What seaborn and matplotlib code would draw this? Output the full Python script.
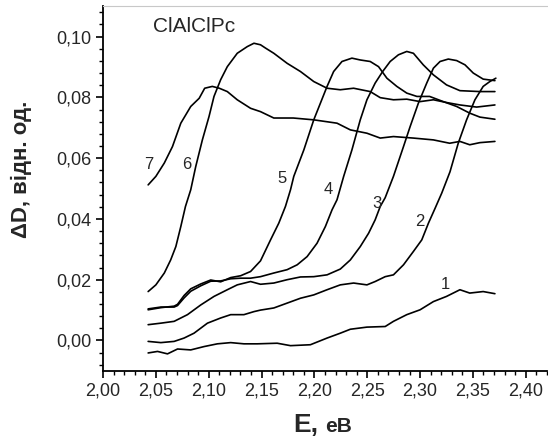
import pandas as pd
import numpy as np
import matplotlib
matplotlib.use("Agg")
import matplotlib.pyplot as plt
import seaborn as sns
from matplotlib.ticker import MultipleLocator, FuncFormatter

# spectra: E (eV) and dD for curves 1..7
e1 = [2.0427, 2.0516, 2.061, 2.0705, 2.083, 2.0956, 2.1082, 2.1208, 2.1333, 2.146, 2.1648, 2.1774,
      2.1962, 2.212, 2.2245, 2.234, 2.2497, 2.267, 2.2748, 2.2874, 2.30, 2.3126, 2.325, 2.3377,
      2.347, 2.3597, 2.3708]
d1 = [-0.0041, -0.0036, -0.0044, -0.0028, -0.0031, -0.0020, -0.0011, -0.0007, -0.0011, -0.0011,
      -0.0009, -0.0017, -0.0014, 0.0008, 0.0024, 0.0037, 0.0044, 0.0046, 0.0063, 0.0085, 0.0101,
      0.0128, 0.0145, 0.0167, 0.0156, 0.0161, 0.0154]

e2 = [2.0427, 2.0547, 2.0673, 2.0767, 2.0861, 2.0988, 2.1113, 2.1208, 2.1333, 2.1428, 2.149, 2.1616,
      2.1742, 2.1868, 2.1994, 2.212, 2.2245, 2.2371, 2.2497, 2.2575, 2.267, 2.2748, 2.2843, 2.2937,
      2.3016, 2.3079, 2.3142, 2.3205, 2.3283, 2.3361, 2.344, 2.3519, 2.3597, 2.366, 2.3717]
d2 = [-0.0003, -0.0007, -0.0003, 0.0008, 0.0024, 0.0057, 0.0074, 0.0085, 0.0085, 0.0095, 0.0100,
      0.0107, 0.0123, 0.0139, 0.0150, 0.0167, 0.0183, 0.0189, 0.0183, 0.0194, 0.0210, 0.0216, 0.0249,
      0.0293, 0.0331, 0.0386, 0.0435, 0.0485, 0.0555, 0.0649, 0.0726, 0.0792, 0.0836, 0.0852,
      0.0863]

e3 = [2.0427, 2.0547, 2.0673, 2.0799, 2.0925, 2.1050, 2.1176, 2.127, 2.1396, 2.149, 2.1616, 2.1742,
      2.1868, 2.1994, 2.212, 2.2245, 2.234, 2.2434, 2.2513, 2.2575, 2.2623, 2.2670, 2.2748, 2.2843,
      2.2906, 2.2984, 2.3063, 2.3126, 2.3189, 2.3267, 2.3346, 2.3425, 2.3503, 2.3597, 2.3708]
d3 = [0.0052, 0.0057, 0.0063, 0.0085, 0.0117, 0.0145, 0.0167, 0.0183, 0.0194, 0.0185, 0.0189, 0.0200,
      0.0209, 0.0210, 0.0216, 0.0235, 0.0265, 0.0309, 0.0353, 0.0397, 0.0441, 0.0470, 0.0540, 0.0638,
      0.0704, 0.0781, 0.0847, 0.0896, 0.0918, 0.0926, 0.0921, 0.0907, 0.0880, 0.0860, 0.0855]

e4 = [2.0427, 2.0547, 2.0673, 2.0705, 2.0767, 2.083, 2.0925, 2.1019, 2.1113, 2.1208, 2.1302, 2.1396,
      2.149, 2.1616, 2.1742, 2.1837, 2.1931, 2.2025, 2.2104, 2.2167, 2.2214, 2.2277, 2.2355, 2.2434,
      2.2497, 2.2575, 2.2646, 2.2717, 2.2795, 2.2874, 2.2937, 2.303, 2.3126, 2.325, 2.3377, 2.3566,
      2.3708]
d4 = [0.0104, 0.0110, 0.0110, 0.0115, 0.0140, 0.0162, 0.0180, 0.0195, 0.0196, 0.0203, 0.0205, 0.0205,
      0.0210, 0.0222, 0.0233, 0.0249, 0.0276, 0.0320, 0.0375, 0.0430, 0.0463, 0.0540, 0.0627, 0.0726,
      0.0792, 0.0847, 0.0885, 0.0918, 0.0940, 0.0951, 0.0945, 0.0907, 0.0874, 0.0841, 0.0822, 0.0819,
      0.0819]

e5 = [2.0427, 2.0547, 2.0673, 2.0705, 2.0767, 2.083, 2.0925, 2.1019, 2.1113, 2.1208, 2.1302, 2.1396,
      2.149, 2.1585, 2.1663, 2.1726, 2.1774, 2.1805, 2.190, 2.1994, 2.2057, 2.212, 2.2182, 2.2261,
      2.2355, 2.2434, 2.2528, 2.2607, 2.2686, 2.278, 2.2874, 2.297, 2.309, 2.322, 2.3346, 2.347,
      2.3566, 2.3708]
d5 = [0.0101, 0.0108, 0.0113, 0.0119, 0.0148, 0.0170, 0.0186, 0.0199, 0.0193, 0.0207, 0.0213, 0.0227,
      0.0262, 0.0331, 0.0386, 0.0441, 0.0496, 0.0540, 0.0627, 0.0726, 0.0781, 0.0836, 0.0885, 0.0918,
      0.0929, 0.0923, 0.0918, 0.0901, 0.0863, 0.0836, 0.0814, 0.0803, 0.0803, 0.0786, 0.0770, 0.0748,
      0.0735, 0.0728]

e6 = [2.0427, 2.050, 2.058, 2.064, 2.0689, 2.0736, 2.078, 2.083, 2.0877, 2.094, 2.1003, 2.105, 2.1113,
      2.1176, 2.127, 2.1365, 2.1428, 2.149, 2.1538, 2.1616, 2.1742, 2.1868, 2.1994, 2.212, 2.2245,
      2.2371, 2.2528, 2.2623, 2.2748, 2.2874, 2.30, 2.3126, 2.325, 2.3377, 2.3535, 2.3708]
d6 = [0.0161, 0.0183, 0.0222, 0.0265, 0.0309, 0.0375, 0.0441, 0.0496, 0.0572, 0.0660, 0.0737, 0.0803,
      0.0858, 0.0901, 0.0945, 0.0967, 0.0978, 0.0973, 0.0962, 0.0945, 0.0912, 0.0885, 0.0852, 0.0830,
      0.0825, 0.0830, 0.0819, 0.0799, 0.0792, 0.0794, 0.0786, 0.0792, 0.0783, 0.0775, 0.0768, 0.0775]

e7 = [2.0427, 2.050, 2.058, 2.0657, 2.0736, 2.083, 2.091, 2.0962, 2.1034, 2.110, 2.1176, 2.127, 2.1396,
      2.149, 2.1616, 2.180, 2.1994, 2.2214, 2.234, 2.2497, 2.2623, 2.2748, 2.2937, 2.3126, 2.328,
      2.3377, 2.347, 2.3566, 2.3708]
d7 = [0.0512, 0.0540, 0.0584, 0.0638, 0.0715, 0.0770, 0.0797, 0.0830, 0.0836, 0.0830, 0.0819, 0.0792,
      0.0764, 0.0753, 0.0732, 0.0732, 0.0726, 0.0715, 0.0693, 0.0682, 0.0666, 0.0671, 0.0666, 0.0660,
      0.0649, 0.0655, 0.0644, 0.0651, 0.0655]

curve_labels = ["1", "2", "3", "4", "5", "6", "7"]
label_e = [2.3236, 2.300, 2.2591, 2.2135, 2.1695, 2.0788, 2.0437]
label_d = [0.0183, 0.0391, 0.0452, 0.0498, 0.0534, 0.0578, 0.0578]

frames = []
for name, e, d in zip(curve_labels, [e1, e2, e3, e4, e5, e6, e7], [d1, d2, d3, d4, d5, d6, d7]):
    frames.append(pd.DataFrame({"E": e, "D": d, "curve": name}))
df = pd.concat(frames, ignore_index=True)

sns.set_style("ticks")
plt.rcParams["font.family"] = ["Liberation Sans", "DejaVu Sans"]

fig = plt.figure(figsize=(5.48, 4.41), dpi=100)
ax = fig.add_axes([0.188, 0.159, 0.81, 0.827])

sns.lineplot(data=df, x="E", y="D", units="curve", estimator=None, sort=False,
             color="black", linewidth=1.2, ax=ax)

for lab, x, y in zip(curve_labels, label_e, label_d):
    ax.text(x, y, lab, fontsize=12, ha="center", va="center")

ax.text(2.047, 0.1032, "ClAlClPc", fontsize=15, ha="left", va="center")

ax.set_xlim(2.0, 2.42)
ax.set_ylim(-0.01, 0.11)
ax.xaxis.set_major_locator(MultipleLocator(0.05))
ax.xaxis.set_minor_locator(MultipleLocator(0.01))
ax.yaxis.set_major_locator(MultipleLocator(0.02))
ax.yaxis.set_minor_locator(MultipleLocator(0.004))
comma = FuncFormatter(lambda v, p: f"{v:.2f}".replace(".", ","))
ax.xaxis.set_major_formatter(comma)
ax.yaxis.set_major_formatter(comma)
ax.tick_params(which="major", direction="out", length=5, width=1.2, labelsize=13, color="black")
ax.tick_params(which="minor", direction="out", length=3, width=1.0, color="black")

ax.spines["right"].set_visible(False)
ax.spines["top"].set_color("#c8c8c8")
ax.spines["left"].set_linewidth(1.3)
ax.spines["bottom"].set_linewidth(1.3)
ax.spines["left"].set_color("black")
ax.spines["bottom"].set_color("black")

ax.set_xlabel("")
ax.set_ylabel("")
fig.text(0.04, 0.615, "ΔD, відн. од.", rotation=90, fontsize=16, fontweight="bold",
         ha="center", va="center")
fig.text(0.536, 0.02, "E,", fontsize=19, fontweight="bold", ha="left", va="baseline")
fig.text(0.593, 0.02, "eB", fontsize=15, fontweight="bold", ha="left", va="baseline")

fig.savefig("out.png", dpi=100, facecolor="white")
